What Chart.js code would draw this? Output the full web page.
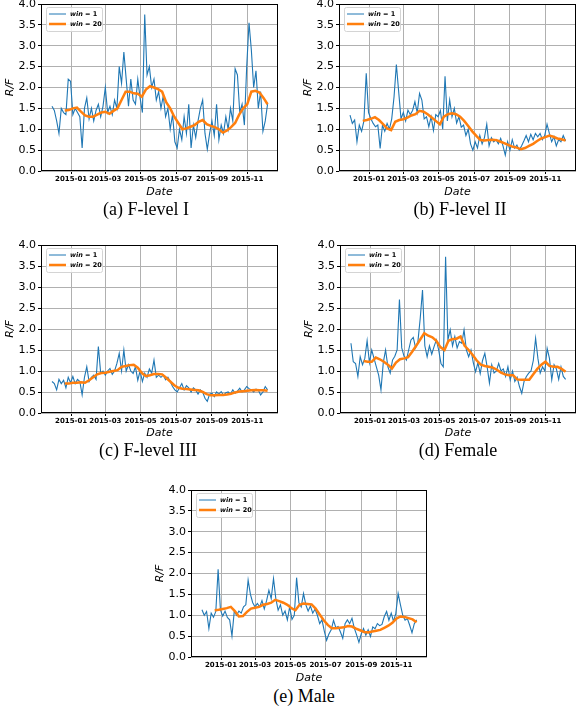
<!DOCTYPE html>
<html>
<head>
<meta charset="utf-8">
<script src="https://cdn.jsdelivr.net/npm/chart.js@4.4.0/dist/chart.umd.min.js"></script>
<style>
  html, body { margin: 0; padding: 0; background: #fff; }
  body { width: 577px; height: 709px; position: relative; overflow: hidden; }
  canvas { position: absolute; }
  .cap { position: absolute; font-family: 'Liberation Serif', serif; font-size: 18px; transform: translateX(-50%); white-space: nowrap; color: #000; }
</style>
</head>
<body>
<canvas id="chartA" width="290" height="208" style="left:0;top:-8px"></canvas>
<canvas id="chartB" width="279" height="208" style="left:298px;top:-8px"></canvas>
<canvas id="chartC" width="290" height="208" style="left:0;top:233px"></canvas>
<canvas id="chartD" width="278" height="208" style="left:299px;top:233px"></canvas>
<canvas id="chartE" width="290" height="208" style="left:150px;top:478px"></canvas>
<div class="cap" style="left:146px;top:199px">(a) F-level I</div>
<div class="cap" style="left:460px;top:199px">(b) F-level II</div>
<div class="cap" style="left:148px;top:440px">(c) F-level III</div>
<div class="cap" style="left:458px;top:440px">(d) Female</div>
<div class="cap" style="left:304px;top:686px">(e) Male</div>
<script>
// days counted from 2015-01-01
const tickDays = [0, 59, 120, 181, 243, 304];
const tickLabels = ['2015-01', '2015-03', '2015-05', '2015-07', '2015-09', '2015-11'];

const dailyDays = [-33, -29, -25, -21, -17, -13, -9, -5, -1, 3, 7, 11, 15, 19, 23, 27, 31, 35, 39, 43,
  47, 51, 55, 59, 63, 67, 71, 75, 79, 83, 87, 91, 95, 99, 103, 107, 111, 115, 119, 123,
  127, 131, 135, 139, 143, 147, 151, 155, 159, 163, 167, 171, 175, 179, 183, 187, 191, 195, 199, 203,
  207, 211, 215, 219, 223, 227, 231, 235, 239, 243, 247, 251, 255, 259, 263, 267, 271, 275, 279, 283,
  287, 291, 295, 299, 303, 307, 311, 315, 319, 323, 327, 331, 335, 339];
const smoothDays = [-11, -4, 3, 10, 17, 24, 31, 38, 45, 52, 59, 66, 73, 80, 87, 94, 101, 108, 115, 122,
  129, 136, 143, 150, 157, 164, 171, 178, 185, 192, 199, 206, 213, 220, 227, 234, 241, 248, 255, 262,
  269, 276, 283, 290, 297, 304, 311, 318, 325, 332, 339];

// win = 1
const level1Daily = [1.55, 1.45, 1.2, 0.9, 1.5, 1.4, 1.35, 2.2, 2.15, 1.35,
  1.5, 1.4, 1.3, 0.55, 1.5, 1.75, 1.25, 1.5, 1.2, 1.45,
  1.6, 1.3, 1.55, 2.0, 1.4, 1.55, 1.35, 1.7, 1.5, 2.5,
  2.1, 2.85, 2.2, 1.55, 2.2, 1.7, 1.6, 2.2, 1.75, 1.4,
  3.75, 2.3, 2.5, 2.0, 2.2, 1.7, 1.9, 1.5, 1.8, 1.3,
  1.5, 1.0, 1.35, 0.7, 0.55, 1.0, 0.75, 1.3, 0.9, 1.6,
  0.55, 1.1, 0.8, 1.2, 1.5, 1.7, 0.9, 0.52, 0.9, 1.2,
  0.85, 1.6, 0.75, 1.1, 0.9, 1.3, 1.0, 1.5, 1.2, 2.45,
  2.3, 1.4, 1.6, 1.1, 2.5, 3.55, 2.9, 2.0, 2.4, 1.5,
  1.9, 0.95, 1.2, 1.6];
const level2Daily = [1.34, 1.14, 1.22, 0.7, 1.1, 0.95, 1.2, 2.34, 1.4, 1.25,
  1.14, 1.06, 1.1, 0.54, 1.1, 0.95, 1.14, 1.0, 1.25, 1.78,
  2.55, 1.9, 1.25, 1.4, 1.2, 1.46, 1.35, 1.45, 1.66, 1.4,
  1.86, 1.7, 1.25, 1.3, 1.06, 1.3, 0.97, 1.35, 1.3, 1.45,
  1.0, 2.27, 1.2, 1.7, 1.3, 1.5, 1.15, 1.3, 1.05, 1.1,
  0.85, 1.0, 0.65, 0.5, 0.7, 0.55, 0.85, 0.65, 0.8, 1.12,
  0.6, 0.8, 0.7, 0.75, 0.65, 0.78, 0.6, 0.38, 0.7, 0.5,
  0.75, 0.55, 0.62, 0.5, 0.6, 0.72, 0.85, 0.7, 0.88, 0.75,
  0.9, 0.82, 0.9, 0.75, 0.85, 1.12, 0.9, 0.7, 0.82, 0.6,
  0.75, 0.7, 0.85, 0.72];
const level3Daily = [0.75, 0.7, 0.55, 0.8, 0.7, 0.78, 0.6, 0.85, 0.72, 0.87,
  0.7, 0.8, 0.75, 0.43, 0.85, 1.1, 0.75, 0.85, 0.9, 0.8,
  1.58, 0.95, 1.0, 0.9, 1.0, 1.06, 0.92, 1.0, 1.18, 1.42,
  1.0, 1.5, 1.0, 1.15, 1.0, 0.94, 1.1, 0.78, 1.0, 0.75,
  0.95, 0.85, 1.05, 0.95, 1.26, 0.85, 0.9, 0.85, 0.9, 0.79,
  0.85, 0.75, 0.63, 0.55, 0.5, 0.6, 0.7, 0.55, 0.65, 0.6,
  0.5, 0.6, 0.55, 0.45, 0.55, 0.5, 0.35, 0.28, 0.45, 0.47,
  0.39, 0.5, 0.45, 0.51, 0.42, 0.48, 0.5, 0.45, 0.55, 0.47,
  0.52, 0.59, 0.5, 0.55, 0.63, 0.58, 0.55, 0.5, 0.57, 0.55,
  0.43, 0.5, 0.63, 0.55];
const femaleDaily = [1.66, 1.22, 1.18, 0.87, 1.34, 1.15, 1.3, 1.72, 1.2, 1.5,
  1.3, 1.1, 0.9, 0.55, 1.2, 1.5, 1.1, 0.95, 1.26, 1.35,
  1.5, 2.7, 1.55, 1.35, 1.26, 1.5, 1.74, 1.8, 1.55, 1.7,
  2.25, 2.93, 1.6, 1.34, 1.6, 1.4, 1.58, 1.74, 1.5, 1.18,
  1.1, 3.72, 1.74, 1.98, 1.6, 1.82, 1.55, 1.7, 1.66, 1.98,
  1.5, 1.34, 1.5, 1.2, 0.98, 1.2, 0.94, 1.25, 1.42, 1.1,
  0.71, 1.15, 0.95, 1.0, 1.18, 1.0, 1.05, 0.87, 1.1, 0.79,
  1.0, 0.75, 0.85, 0.63, 0.47, 0.75, 0.87, 0.95, 1.0, 1.25,
  1.78, 1.3, 0.95, 1.1, 1.0, 1.54, 1.3, 0.79, 1.15, 1.05,
  0.8, 1.1, 0.87, 0.8];
const maleDaily = [1.13, 1.0, 1.09, 0.68, 1.05, 0.95, 1.09, 2.1, 1.13, 0.98,
  1.1, 0.95, 0.89, 0.5, 1.1, 1.0, 1.1, 1.05, 1.2, 1.25,
  1.84, 1.5, 1.3, 1.2, 1.28, 1.2, 1.35, 1.15, 1.35, 1.6,
  1.4, 1.88, 1.4, 1.12, 1.25, 1.0, 1.1, 0.89, 1.2, 0.9,
  1.0, 1.9, 1.3, 1.2, 1.52, 1.25, 1.1, 1.22, 1.05, 1.15,
  1.0, 0.8, 0.89, 0.62, 0.4, 0.55, 0.65, 0.88, 0.7, 0.73,
  0.6, 0.45, 0.8, 0.89, 0.8, 0.93, 0.69, 0.53, 0.35, 0.55,
  0.68, 0.52, 0.65, 0.49, 0.72, 0.68, 0.8, 0.75, 0.78, 0.97,
  1.09, 0.88, 1.05, 0.85, 1.05, 1.52, 1.25, 1.0, 0.88, 0.92,
  0.76, 0.58, 0.8, 0.89];

// win = 20
const level1Smooth = [1.45, 1.46, 1.5, 1.52, 1.42, 1.33, 1.3, 1.3, 1.35, 1.4,
  1.42, 1.37, 1.44, 1.5, 1.7, 1.9, 1.9, 1.86, 1.85, 1.78,
  1.95, 2.03, 2.0, 1.96, 1.9, 1.65, 1.5, 1.3, 1.15, 1.0,
  1.02, 1.06, 1.1, 1.18, 1.22, 1.12, 1.08, 1.05, 1.0, 0.92,
  0.97, 1.05, 1.15, 1.35, 1.5, 1.6, 1.9, 1.92, 1.88, 1.75,
  1.6];
const level2Smooth = [1.2, 1.22, 1.25, 1.29, 1.22, 1.12, 1.02, 0.98, 1.18, 1.22,
  1.24, 1.28, 1.33, 1.36, 1.44, 1.42, 1.36, 1.28, 1.2, 1.12,
  1.3, 1.36, 1.38, 1.36, 1.3, 1.2, 1.08, 0.95, 0.84, 0.74,
  0.73, 0.74, 0.75, 0.74, 0.7, 0.66, 0.62, 0.58, 0.56, 0.52,
  0.55, 0.6, 0.65, 0.72, 0.78, 0.81, 0.85, 0.82, 0.78, 0.76,
  0.73];
const level3Smooth = [0.7, 0.7, 0.72, 0.72, 0.73, 0.72, 0.78, 0.85, 0.92, 0.95,
  0.96, 0.98, 1.0, 1.02, 1.1, 1.12, 1.14, 1.15, 1.08, 0.95,
  0.88, 0.9, 0.93, 0.93, 0.92, 0.84, 0.75, 0.66, 0.6, 0.58,
  0.57, 0.56, 0.55, 0.54, 0.5, 0.45, 0.42, 0.42, 0.43, 0.43,
  0.44, 0.46, 0.49, 0.51, 0.52, 0.53, 0.54, 0.55, 0.54, 0.54,
  0.53];
const femaleSmooth = [1.24, 1.22, 1.22, 1.32, 1.28, 1.22, 1.15, 1.06, 1.2, 1.28,
  1.3, 1.33, 1.46, 1.6, 1.75, 1.9, 1.84, 1.8, 1.72, 1.57,
  1.5, 1.72, 1.76, 1.77, 1.82, 1.6, 1.5, 1.38, 1.25, 1.15,
  1.12, 1.1, 1.08, 1.03, 0.96, 0.92, 0.9, 0.9, 0.8, 0.79,
  0.79, 0.79, 0.92, 1.05, 1.15, 1.22, 1.12, 1.1, 1.1, 1.05,
  0.98];
const maleSmooth = [1.12, 1.13, 1.15, 1.17, 1.2, 1.1, 0.97, 0.98, 1.08, 1.16,
  1.18, 1.2, 1.25, 1.27, 1.3, 1.37, 1.34, 1.3, 1.25, 1.17,
  1.12, 1.25, 1.28, 1.27, 1.26, 1.16, 1.02, 0.88, 0.77, 0.69,
  0.69, 0.7, 0.71, 0.74, 0.73, 0.68, 0.64, 0.6, 0.59, 0.61,
  0.63, 0.65, 0.7, 0.75, 0.82, 0.92, 0.97, 0.96, 0.93, 0.9,
  0.83];

Chart.defaults.font.family = "'DejaVu Sans', sans-serif";
Chart.defaults.color = '#000';

// frame + legend in the upper left corner
const framePlugin = {
  id: 'framePlugin',
  afterDraw(chart) {
    const ctx = chart.ctx;
    const a = chart.chartArea;
    const L = Math.round(a.left), T = Math.round(a.top);
    const R = Math.round(a.right), B = Math.round(a.bottom);
    ctx.save();
    ctx.strokeStyle = '#000';
    ctx.lineWidth = 1;
    ctx.strokeRect(L + 0.5, T + 0.5, R - L - 1, B - T - 1);

    const lx = L + 5, ly = T + 3;
    ctx.beginPath();
    ctx.roundRect(lx + 0.5, ly + 0.5, 56, 24, 2);
    ctx.fillStyle = 'rgba(255,255,255,0.85)';
    ctx.fill();
    ctx.strokeStyle = '#d4d4d4';
    ctx.stroke();

    const rows = [
      { color: '#1f77b4', width: 1, label: ' = 1', y: ly + 7 },
      { color: '#ff7f0e', width: 2.5, label: ' = 20', y: ly + 17 },
    ];
    rows.forEach(r => {
      ctx.beginPath();
      ctx.strokeStyle = r.color;
      ctx.lineWidth = r.width;
      ctx.moveTo(lx + 3, r.y);
      ctx.lineTo(lx + 20, r.y);
      ctx.stroke();
      ctx.fillStyle = '#000';
      ctx.textBaseline = 'middle';
      ctx.font = "italic bold 6.5px 'DejaVu Sans'";
      ctx.fillText('win', lx + 24, r.y + 0.5);
      const w = ctx.measureText('win').width;
      ctx.font = "bold 6.5px 'DejaVu Sans'";
      ctx.fillText(r.label, lx + 24 + w, r.y + 0.5);
    });
    ctx.restore();
  },
};

function makePanel(id, daily, smooth, pad, xAxisHeight) {
  const ctx = document.getElementById(id).getContext('2d');
  return new Chart(ctx, {
    type: 'line',
    data: {
      datasets: [
        {
          data: daily.map((v, i) => ({ x: dailyDays[i], y: v })),
          borderColor: '#1f77b4',
          borderWidth: 1.1,
          pointRadius: 0,
          tension: 0,
          order: 2,
        },
        {
          data: smooth.map((v, i) => ({ x: smoothDays[i], y: v })),
          borderColor: '#ff7f0e',
          borderWidth: 2.5,
          pointRadius: 0,
          tension: 0,
          order: 1,
        },
      ],
    },
    options: {
      animation: false,
      responsive: false,
      devicePixelRatio: 1,
      layout: { padding: pad },
      plugins: { legend: { display: false }, tooltip: { enabled: false } },
      scales: {
        x: {
          type: 'linear',
          min: -52,
          max: 357,
          afterBuildTicks: s => { s.ticks = tickDays.map(v => ({ value: v })); },
          afterFit: s => {
            s.height = xAxisHeight;
            s.paddingLeft = 0;
            s.paddingRight = 0;
          },
          ticks: {
            autoSkip: false,
            maxRotation: 0,
            padding: 1,
            font: { size: 7, weight: 'bold' },
            callback: v => tickLabels[tickDays.indexOf(v)],
          },
          grid: { color: '#b0b0b0', tickColor: '#000', tickLength: 3 },
          border: { display: false },
          title: {
            display: true,
            text: 'Date',
            font: { size: 11, style: 'italic' },
            padding: { top: 0, bottom: 1.4 },
          },
        },
        y: {
          min: 0,
          max: 4,
          afterFit: s => {
            s.width = 41;
            s.paddingTop = 0;
            s.paddingBottom = 0;
          },
          ticks: {
            stepSize: 0.5,
            padding: 2,
            font: { size: 11 },
            callback: v => v.toFixed(1),
          },
          grid: { color: '#b0b0b0', tickColor: '#000', tickLength: 3 },
          border: { display: false },
          title: {
            display: true,
            text: 'R/F',
            font: { size: 11, style: 'italic' },
            padding: { top: 3.4, bottom: 0 },
          },
        },
      },
    },
    plugins: [framePlugin],
  });
}

makePanel('chartA', level1Daily, level1Smooth, { left: 0, top: 12, right: 12, bottom: 0 }, 29);
makePanel('chartB', level2Daily, level2Smooth, { left: 0, top: 12, right: 1, bottom: 0 }, 29);
makePanel('chartC', level3Daily, level3Smooth, { left: 0, top: 12, right: 12, bottom: 0 }, 28);
makePanel('chartD', femaleDaily, femaleSmooth, { left: 0, top: 12, right: 1, bottom: 0 }, 28);
makePanel('chartE', maleDaily, maleSmooth, { left: 0, top: 12, right: 13, bottom: 0 }, 29);
</script>
</body>
</html>
